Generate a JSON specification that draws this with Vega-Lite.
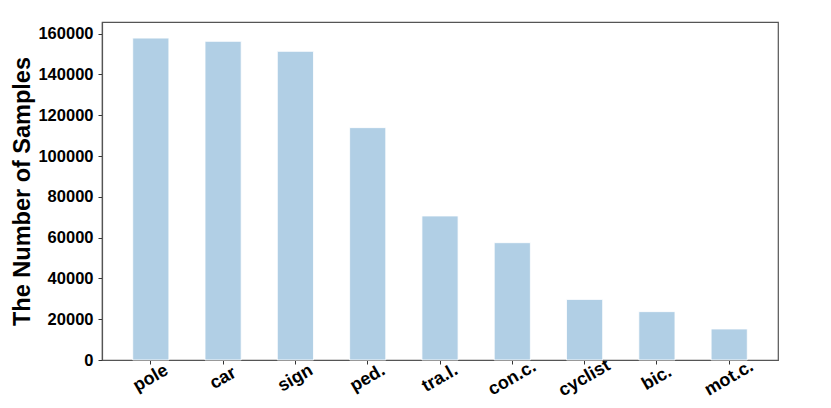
{
  "$schema": "https://vega.github.io/schema/vega-lite/v6.json",
  "width": 676,
  "height": 338,
  "autosize": {"type": "none"},
  "padding": {"left": 102, "top": 22, "right": 53, "bottom": 48},
  "background": "white",
  "config": {
    "font": "Liberation Sans",
    "view": {"stroke": "#555555", "strokeWidth": 1.2},
    "axis": {
      "domainColor": "#555555",
      "domainWidth": 1.2,
      "tickColor": "#333333",
      "tickSize": 4,
      "labelFont": "Liberation Sans",
      "labelFontWeight": "bold",
      "labelColor": "#000000",
      "titleFont": "Liberation Sans",
      "titleFontWeight": "bold",
      "titleColor": "#000000",
      "grid": false
    }
  },
  "data": {
    "values": [
      {"cls": "pole", "n": 157800},
      {"cls": "car", "n": 156200},
      {"cls": "sign", "n": 151300},
      {"cls": "ped.", "n": 113900},
      {"cls": "tra.l.", "n": 70600},
      {"cls": "con.c.", "n": 57500},
      {"cls": "cyclist", "n": 29700},
      {"cls": "bic.", "n": 23700},
      {"cls": "mot.c.", "n": 15200}
    ]
  },
  "mark": {"type": "bar", "color": "#b1cfe5", "stroke": "#ffffff", "strokeWidth": 0.8},
  "encoding": {
    "x": {
      "field": "cls",
      "type": "nominal",
      "sort": null,
      "scale": {"paddingInner": 0.5, "paddingOuter": 0.425},
      "axis": {
        "title": null,
        "labelAngle": -30,
        "labelAlign": "center",
        "labelBaseline": "middle",
        "labelPadding": 14,
        "labelFontSize": 18
      }
    },
    "y": {
      "field": "n",
      "type": "quantitative",
      "scale": {"domain": [0, 165690], "nice": false},
      "axis": {
        "title": "The Number of Samples",
        "values": [0, 20000, 40000, 60000, 80000, 100000, 120000, 140000, 160000],
        "format": "d",
        "labelFontSize": 16.5,
        "labelPadding": 5,
        "titleFontSize": 23.5,
        "titlePadding": 3
      }
    }
  }
}
